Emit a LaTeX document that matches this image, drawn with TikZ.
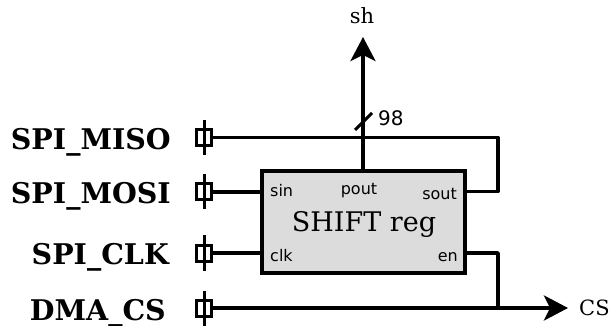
\documentclass[tikz,border=0pt]{standalone}
\usepackage{fontspec}
\setmainfont{DejaVu Serif}
\newfontfamily\pinfont{DejaVu Sans}
\usetikzlibrary{arrows.meta}
\definecolor{boxgray}{RGB}{220,220,220}
\tikzset{
  wire/.style={line width=3.4pt, line join=round},
  port/.style={draw, line width=3pt, minimum width=15pt, minimum height=16pt, inner sep=0pt},
  sig/.style={font=\fontsize{28.5}{30}\selectfont\bfseries, anchor=base east, inner sep=0pt},
  pin/.style={font=\pinfont\fontsize{16}{18}\selectfont, inner sep=0pt},
  outlbl/.style={font=\fontsize{21}{23}\selectfont, inner sep=0pt},
  arr/.style={-{Stealth[length=24pt, width=25pt, inset=6pt]}}
}
\begin{document}
\begin{tikzpicture}[x=1pt,y=-1pt]
\useasboundingbox (0,0) rectangle (611,326);
% signal labels
\node[sig] (lMISO) at (171,150) {SPI\_MISO};
\node[sig] (lMOSI) at (171,203.3) {SPI\_MOSI};
\node[sig] (lCLK) at (169,265) {SPI\_CLK};
\node[sig] (lDMA) at (166,320) {DMA\_CS};
% ports
\node[port] (pMISO) at (204,137.5) {};
\node[port] (pMOSI) at (204,192) {};
\node[port] (pCLK) at (204,253) {};
\node[port] (pDMA) at (204,308) {};
\foreach \p in {pMISO,pMOSI,pCLK,pDMA}
  \draw[line width=3pt] ([yshift=8pt]\p.north) -- ([yshift=-8pt]\p.south);
% shift register box
\node[draw, fill=boxgray, line width=3.4pt, minimum width=203pt, minimum height=102pt, inner sep=0pt] (reg) at (363.5,222) {};
\node[font=\fontsize{27}{29}\selectfont, anchor=base, inner sep=0pt] (title) at (364,231.7) {SHIFT reg};
\node[pin, anchor=base west] (psin) at (270,196.5) {sin};
\node[pin, anchor=base] (ppout) at (359,194.3) {pout};
\node[pin, anchor=base east] (psout) at (457,200) {sout};
\node[pin, anchor=base west] (pclk) at (270,261.7) {clk};
\node[pin, anchor=base east] (pen) at (458,261.7) {en};
% outputs
\coordinate (shtip) at (363,37);
\coordinate (cstip) at (568,308);
\node[outlbl, anchor=base] (sh) at (362,23.3) {sh};
\node[outlbl, anchor=base west] (cs) at (579,315) {CS};
\node[pin, font=\pinfont\fontsize{20}{22}\selectfont, anchor=base west] (n98) at (378,126) {98};
% wires
\coordinate (loopR) at (498,137.5);
\coordinate (enR) at (498,253);
\draw[wire] (pMISO.east) -- (loopR) |- (reg.east |- 0,191.5);
\draw[wire] (pMOSI.east) -- (reg.west |- pMOSI);
\draw[wire] (pCLK.east) -- (reg.west |- pCLK);
\draw[wire] (reg.east |- enR) -- (enR) -- (enR |- pDMA);
\draw[wire, arr] (pDMA.east) -- (cstip);
\draw[wire, arr] (reg.north -| shtip) -- (shtip);
\coordinate (slA) at (355,130);
\coordinate (slB) at (372,113);
\draw[wire, line width=3pt] (slA) -- (slB);
\end{tikzpicture}
\end{document}
